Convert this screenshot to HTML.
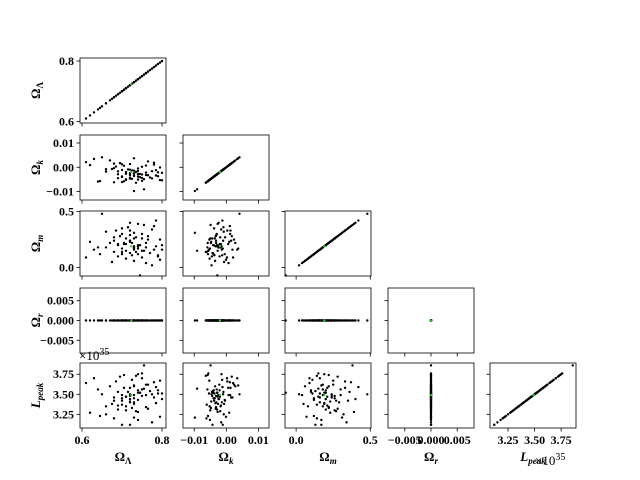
<!DOCTYPE html>
<html><head><meta charset="utf-8"><style>
body{margin:0;background:#fff;}
svg{display:block;font-family:"Liberation Serif",serif;}
.tk{font-weight:bold;font-size:12px;}
</style></head><body>
<svg id="c" width="640" height="480"></svg>
<script>
const names=["ΩΛ","Ωk","Ωm","Ωr","Lpeak"];
const omegaL=[0.61,0.72,0.63,0.745,0.645,0.70,0.66,0.755,0.67,0.675,0.73,0.68,0.685,0.79,0.69,0.695,0.70,0.775,0.70,0.705,0.62,0.71,0.74,0.71,0.715,0.765,0.72,0.72,0.64,0.72,0.725,0.725,0.80,0.73,0.73,0.68,0.73,0.735,0.65,0.735,0.74,0.74,0.78,0.74,0.745,0.69,0.75,0.75,0.66,0.755,0.72,0.76,0.76,0.765,0.77,0.705,0.775,0.78,0.785,0.785,0.79,0.795,0.795,0.80,0.75,0.70,0.72,0.73,0.74,0.71,0.69,0.68,0.75,0.76,0.73,0.72,0.70,0.71,0.74,0.73];
const omegaK=[0.0021,-0.0032,0.0034,-0.0041,-0.0057,0.0012,-0.0018,-0.0049,0.0028,-0.0007,-0.0036,-0.0062,0.0003,-0.0021,-0.0029,0.0017,-0.0011,-0.0046,-0.0038,0.0006,0.0009,-0.0027,-0.0015,-0.0052,-0.0009,0.0024,-0.0043,-0.0031,-0.0059,-0.0024,-0.0013,-0.0048,-0.0054,-0.0098,-0.0035,0.0015,-0.0026,-0.0064,0.0041,-0.0019,-0.0039,-0.0005,0.0011,-0.0051,-0.0028,-0.0017,-0.0044,0.0002,-0.0008,-0.0091,-0.0047,-0.0022,0.0007,-0.0033,-0.0042,-0.0058,-0.0016,0.0019,-0.0012,-0.0034,-0.0037,-0.0053,-0.0001,-0.0023,-0.0030,-0.0061,-0.0010,0.0037,-0.0027,-0.0020,-0.0045,-0.0004,-0.0056,-0.0032,-0.0025,0.0013,-0.0040,-0.0050,-0.0029,-0.0014];
const omegaM=[0.09,0.24,0.16,0.2,0.12,0.30,0.18,0.38,0.22,0.05,0.26,0.14,0.33,0.10,0.20,0.28,0.17,0.02,0.35,0.21,0.23,0.15,0.19,0.08,0.36,0.25,0.13,0.29,0.18,0.40,0.11,0.22,0.16,0.31,0.06,0.24,0.19,0.14,0.48,0.27,0.20,0.12,0.37,0.17,-0.07,0.21,0.26,0.09,0.32,0.15,0.23,0.18,0.04,0.28,0.13,0.22,0.34,0.16,0.42,0.19,0.11,0.25,0.07,0.20,0.30,0.14,0.24,0.17,0.39,0.21,0.10,0.27,0.15,0.22,0.18,0.33,0.12,0.26,0.19,0.16];
const omegaR=[];for(let i=0;i<omegaL.length;i++)omegaR.push(0);
const lpeak=[3.64,3.48,3.70,3.52,3.23,3.49,3.35,3.86,3.60,3.38,3.45,3.20,3.66,3.55,3.31,3.72,3.12,3.50,3.42,3.58,3.27,3.47,3.75,3.35,3.53,3.62,3.12,3.40,3.56,3.44,3.68,3.33,3.51,3.21,3.60,3.46,3.38,3.73,3.50,3.29,3.55,3.43,3.65,3.18,3.52,3.36,3.48,3.70,3.25,3.57,3.41,3.62,3.49,3.32,3.54,3.74,3.15,3.46,3.59,3.39,3.51,3.67,3.22,3.44,3.56,3.37,3.50,3.61,3.28,3.47,3.53,3.42,3.76,3.34,3.49,3.58,3.45,3.30,3.52,3.40];
const meanVals=[0.723,-0.002,0.19,0,3.49];
const data=[omegaL,omegaK,omegaM,omegaR,lpeak];
const doms=[[0.595,0.81],[-0.0135,0.0133],[-0.075,0.505],[-0.0082,0.0082],[3.08,3.89]];
const ticks=[[0.6,0.8],[-0.01,0,0.01],[0,0.5],[-0.005,0,0.005],[3.25,3.5,3.75]];
const xtl=[["0.6","0.8"],["−0.01","0.00","0.01"],["0.0","0.5"],["−0.005","0.000","0.005"],["3.25","3.50","3.75"]];
const ytl=[["0.6","0.8"],["−0.01","0.00","0.01"],["0.0","0.5"],["−0.005","0.000","0.005"],["3.25","3.50","3.75"]];
const colX=[80,183,285,388,490],rowY=[58,135,211,288,363],W=86,H=65;
const NS="http://www.w3.org/2000/svg",svg=document.getElementById('c');
function mk(t,a,p){const e=document.createElementNS(NS,t);for(const k in a)e.setAttribute(k,a[k]);(p||svg).appendChild(e);return e;}
function sx(j,v){const d=doms[j];return colX[j]+(v-d[0])/(d[1]-d[0])*W;}
function sy(i,v){const d=doms[i];return rowY[i]+H-(v-d[0])/(d[1]-d[0])*H;}
for(let i=0;i<5;i++)for(let j=0;j<=i;j++){
  const g=mk('g',{});
  
  
  const X=data[j],Y=data[i];
  for(let k=0;k<X.length;k++){
    const c=mk('circle',{cx:sx(j,X[k]),cy:sy(i,Y[k]),r:1.2,fill:'#000'},g);
    
    
  }
  const m=mk('circle',{cx:sx(j,meanVals[j]),cy:sy(i,meanVals[i]),r:1.2,fill:'#2c2'},g);
  
  
  mk('rect',{x:colX[j],y:rowY[i],width:W,height:H,fill:'none',stroke:'#000','stroke-width':0.8},g);
  ticks[j].forEach((t,k)=>{const x=sx(j,t);mk('line',{x1:x,x2:x,y1:rowY[i]+H,y2:rowY[i]+H+3.5,stroke:'#000','stroke-width':0.8},g);
    if(i==4){const tx=mk('text',{x:x,y:rowY[i]+H+16,'text-anchor':'middle',class:'tk'},g);tx.textContent=xtl[j][k];}});
  ticks[i].forEach((t,k)=>{const y=sy(i,t);mk('line',{x1:colX[j]-3.5,x2:colX[j],y1:y,y2:y,stroke:'#000','stroke-width':0.8},g);
    if(j==0){const tx=mk('text',{x:colX[j]-6,y:y+4,'text-anchor':'end',class:'tk'},g);tx.textContent=ytl[i][k];}});
}
const xl=['Ω<tspan font-size="9" dy="3">Λ</tspan>','Ω<tspan font-style="italic" font-size="9" dy="3">k</tspan>','Ω<tspan font-style="italic" font-size="9" dy="3">m</tspan>','Ω<tspan font-style="italic" font-size="9" dy="3">r</tspan>','<tspan font-style="italic">L</tspan><tspan font-style="italic" font-size="9" dy="3">peak</tspan>'];
for(let j=0;j<5;j++){const t=mk('text',{x:colX[j]+W/2,y:461,'text-anchor':'middle','font-size':13,'font-weight':'bold'});t.innerHTML=xl[j];
  }
for(let i=0;i<5;i++){const cx=40,cy=rowY[i]+H/2;const t=mk('text',{x:cx,y:cy,'text-anchor':'middle','font-size':13,'font-weight':'bold',transform:`rotate(-90 ${cx} ${cy})`});t.innerHTML=xl[i];
  }
const o1=mk('text',{x:79,y:360,'font-size':13});o1.innerHTML='×10<tspan font-size="10" dy="-5">35</tspan>';

const o2=mk('text',{x:535,y:465,'font-size':13});o2.innerHTML='×10<tspan font-size="10" dy="-5">35</tspan>';

</script>
</body></html>
